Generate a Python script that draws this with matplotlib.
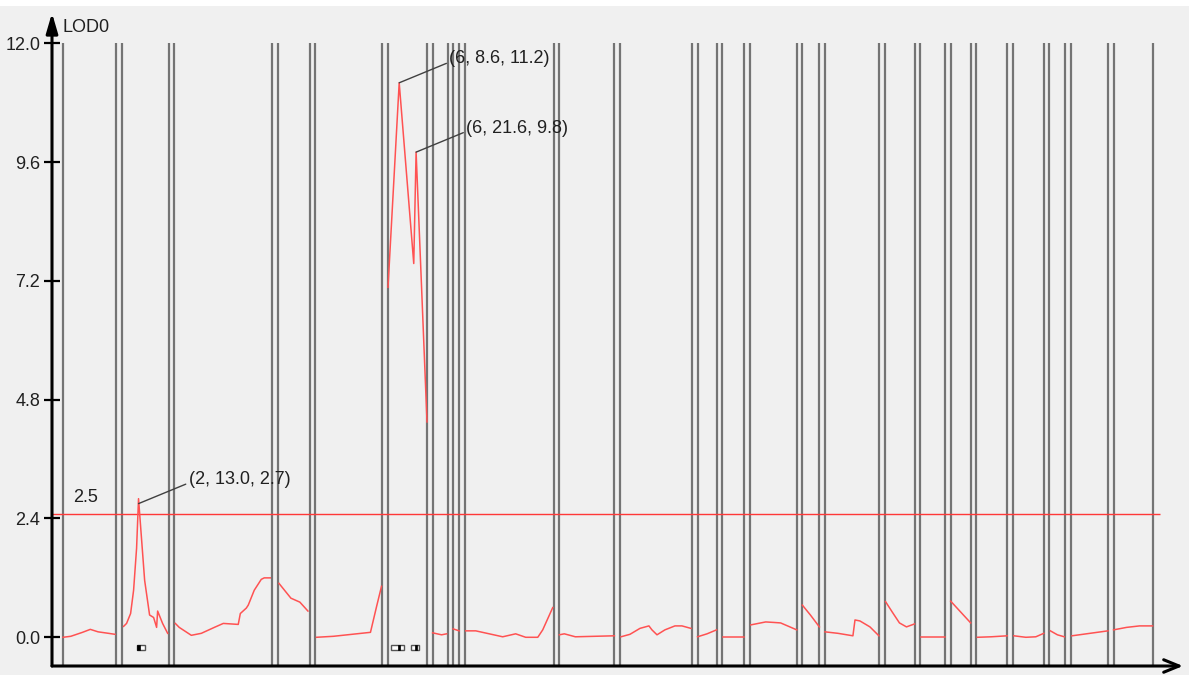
import matplotlib
matplotlib.use('Agg')
import matplotlib.pyplot as plt
from matplotlib.patches import Rectangle
import numpy as np

plt.rcParams['font.family'] = ['Liberation Sans', 'DejaVu Sans']

# 染色体长度 (cM) 和间隔
chrom_len = [40.8, 36.2, 75.4, 24.6, 51.5, 30.0, 11.5, 4.6, 68.5, 42.3, 55.4, 14.6,
             16.9, 36.2, 13.1, 41.5, 23.1, 19.2, 15.4, 23.8, 23.8, 12.3, 28.5, 30.0]
gap = 4.3

# 每条染色体上的 LOD 曲线 (位置 cM, LOD)
pos = [
    [0, 6, 15, 21, 27, 35, 40],
    [1.5, 3.8, 6.9, 9.2, 11.5, 13.0, 17.7, 21.5, 24.6, 26.9, 27.7, 31.5, 35.4],
    [0.8, 3.8, 13.1, 20.8, 30.8, 37.7, 49.2, 50.8, 55.4, 56.9, 61.5, 66.9, 69.2, 73.8],
    [0.8, 10.0, 16.9, 23.1],
    [0.8, 13.8, 42.3, 46.9, 50.8],
    [0.0, 8.6, 19.8, 21.6, 30.0],
    [0.0, 6.9, 10.8],
    [0.0, 4.6],
    [0.8, 8.5, 29.2, 39.2, 46.9, 56.2, 60.0, 67.7],
    [0.0, 3.8, 12.3, 42.3],
    [0.8, 7.7, 15.4, 22.3, 24.6, 28.5, 34.6, 42.3, 47.7, 54.6],
    [0.0, 7.3, 14.6],
    [0.8, 16.9],
    [0.8, 12.3, 18.5, 23.8, 36.2],
    [0.0, 6.2, 13.1],
    [0.0, 10.0, 21.5, 23.1, 26.9, 34.6, 41.5],
    [0.8, 6.2, 11.5, 16.9, 23.1],
    [0.8, 19.2],
    [0.0, 7.7, 15.4],
    [0.8, 11.5, 23.8],
    [0.8, 10.0, 17.7, 23.8],
    [0.8, 6.2, 11.5],
    [0.8, 28.5],
    [0.0, 10.0, 20.0, 30.0],
]
lod = [
    [0.0, 0.02, 0.10, 0.16, 0.11, 0.08, 0.06],
    [0.22, 0.28, 0.48, 0.95, 1.8, 2.8, 1.15, 0.45, 0.4, 0.2, 0.53, 0.28, 0.08],
    [0.28, 0.2, 0.04, 0.08, 0.2, 0.28, 0.26, 0.48, 0.59, 0.65, 0.95, 1.17, 1.2, 1.2],
    [1.09, 0.79, 0.71, 0.53],
    [0.0, 0.02, 0.1, 0.61, 1.03],
    [7.07, 11.2, 7.55, 9.8, 4.35],
    [0.09, 0.05, 0.07],
    [0.17, 0.13],
    [0.13, 0.13, 0.01, 0.07, 0.0, 0.0, 0.15, 0.6],
    [0.05, 0.07, 0.01, 0.03],
    [0.01, 0.06, 0.18, 0.23, 0.15, 0.05, 0.15, 0.23, 0.23, 0.18],
    [0.01, 0.07, 0.15],
    [0.01, 0.01],
    [0.25, 0.31, 0.30, 0.29, 0.15],
    [0.65, 0.45, 0.21],
    [0.11, 0.08, 0.03, 0.35, 0.33, 0.21, 0.03],
    [0.72, 0.5, 0.29, 0.21, 0.27],
    [0.0, 0.0],
    [0.73, 0.51, 0.29],
    [0.0, 0.01, 0.03],
    [0.03, 0.0, 0.01, 0.08],
    [0.13, 0.05, 0.01],
    [0.03, 0.13],
    [0.15, 0.2, 0.23, 0.23],
]

# QTL 峰值: 染色体, 位置, LOD, 置信区间
qtl_chrom = [2, 6, 6]
qtl_pos = [13.0, 8.6, 21.6]
qtl_lod = [2.7, 11.2, 9.8]
qtl_ci_lo = [11.5, 2.3, 17.7]
qtl_ci_hi = [17.7, 12.3, 23.8]

threshold = 2.5
yticks = [0.0, 2.4, 4.8, 7.2, 9.6, 12.0]

# 染色体起点
starts = np.concatenate([[0], np.cumsum(np.array(chrom_len) + gap)[:-1]])
ends = starts + np.array(chrom_len)

W, H = 1189, 675
fs = 13
fig = plt.figure(figsize=(W / 100, H / 100), dpi=100, facecolor='#f0f0f0')
ax = fig.add_axes([52 / W, (H - 666) / H, (1183 - 52) / W, (666 - 13) / H])
ax.set_facecolor('#f0f0f0')
ax.set_xlim(-8.46, 861.5)
ax.set_ylim(-0.58, 12.61)

# 染色体边界
ax.vlines(np.concatenate([starts, ends]), -0.58, 12.0, color='#747474', lw=1.6, zorder=1)

# 阈值线
ax.hlines(threshold, -8.46, ends[-1] + 6, color='#ff3838', lw=1, zorder=2)
ax.text(17.7, threshold + 0.33, '2.5', fontsize=fs, ha='center', va='center', color='#202020')

# LOD 曲线
for i in range(len(chrom_len)):
    ax.plot(starts[i] + np.array(pos[i]), lod[i], color='#ff5252', lw=1.1, zorder=3)

# QTL 标注
for c, p, l, lo, hi in zip(qtl_chrom, qtl_pos, qtl_lod, qtl_ci_lo, qtl_ci_hi):
    x = starts[c - 1] + p
    ax.annotate('(%d, %.1f, %.1f)' % (c, p, l), xy=(x, l), xytext=(50, 24),
                textcoords='offset pixels', fontsize=fs, color='#202020', va='center', ha='left',
                arrowprops=dict(arrowstyle='-', color='#404040', lw=1, relpos=(0, 0.3),
                                shrinkA=0, shrinkB=0))
    ax.add_patch(Rectangle((starts[c - 1] + lo, -0.25), hi - lo, 0.09,
                           facecolor='white', edgecolor='#555555', lw=1, zorder=3))
    ax.add_patch(Rectangle((x - 0.8, -0.25), 1.6, 0.09, facecolor='black',
                           edgecolor='black', lw=0.5, zorder=4))

# 坐标轴
for s in ax.spines.values():
    s.set_visible(False)
ax.annotate('', xy=(0, 1), xytext=(0, 0), xycoords='axes fraction',
            arrowprops=dict(arrowstyle='-|>,head_length=1.2,head_width=0.35', color='black',
                            lw=2.2, shrinkA=0, shrinkB=0))
ax.annotate('', xy=(1, 0), xytext=(0, 0), xycoords='axes fraction',
            arrowprops=dict(arrowstyle='->,head_length=1.1,head_width=0.45', color='black',
                            lw=2.2, shrinkA=0, shrinkB=0))
ax.set_xticks([])
ax.set_yticks(yticks)
ax.set_yticklabels(['%.1f' % v for v in yticks])
ax.tick_params(axis='y', direction='inout', length=11, width=1.6, pad=3, labelsize=fs,
               labelcolor='#202020')
fig.text(62 / W, 1 - 28 / H, 'LOD0', fontsize=fs, ha='left', va='center', color='#202020')

# 顶部白边
fig.patches.append(Rectangle((0, 1 - 6 / H), 1, 6 / H, transform=fig.transFigure,
                             facecolor='white', edgecolor='none'))

fig.savefig('out.png', dpi=100, facecolor=fig.get_facecolor())
